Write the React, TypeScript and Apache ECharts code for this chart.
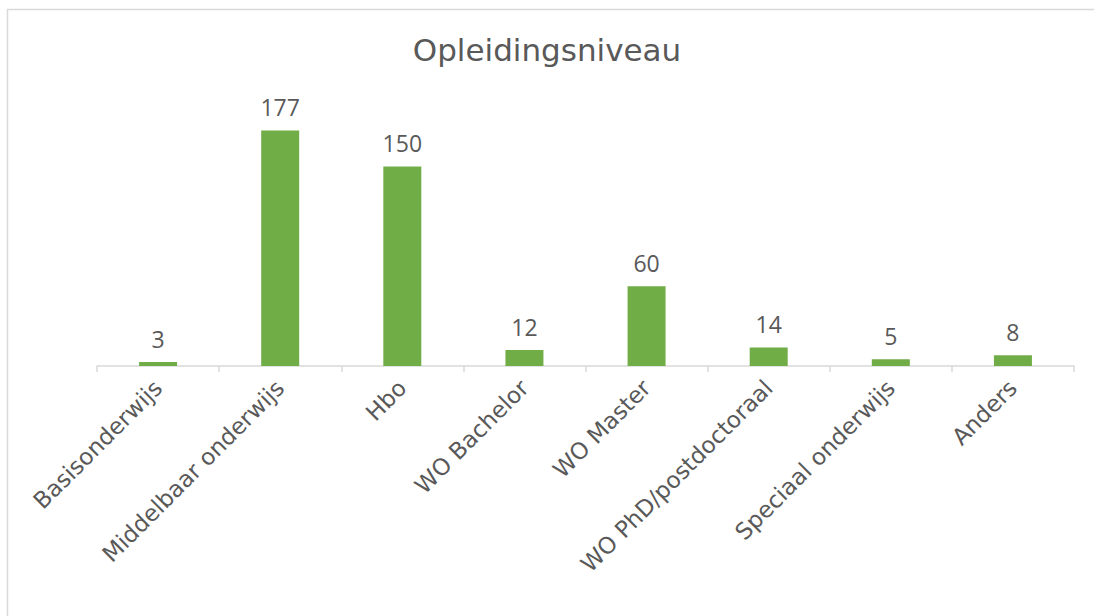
import React, { useEffect, useRef } from "react";
import * as echarts from "echarts";

const categories = [
  "Basisonderwijs",
  "Middelbaar onderwijs",
  "Hbo",
  "WO Bachelor",
  "WO Master",
  "WO PhD/postdoctoraal",
  "Speciaal onderwijs",
  "Anders",
];
const values = [3, 177, 150, 12, 60, 14, 5, 8];
const title = "Opleidingsniveau";

export default function App() {
  const ref = useRef<HTMLDivElement>(null);
  useEffect(() => {
    if (!ref.current) return;
    const chart = echarts.init(ref.current, null, { renderer: "svg" });
    chart.setOption({
      animation: false,
      backgroundColor: "#ffffff",
      title: {
        text: title,
        left: "center",
        top: 29,
        textStyle: { fontFamily: "DejaVu Sans", fontSize: 31, fontWeight: "normal", color: "#595959" },
      },
      graphic: [
        {
          type: "rect",
          shape: { x: 7.5, y: 9.5, width: 1200, height: 800 },
          style: { fill: "none", stroke: "#d9d9d9", lineWidth: 1.5 },
          silent: true,
          z: -10,
        },
      ],
      grid: { left: 97, right: 20, top: 100, bottom: 250, containLabel: false },
      xAxis: {
        type: "category",
        data: categories,
        axisLine: { lineStyle: { color: "#d9d9d9", width: 1.5 } },
        axisTick: { show: true, length: 6, lineStyle: { color: "#d9d9d9", width: 1.5 } },
        axisLabel: {
          rotate: 45,
          interval: 0,
          margin: 18,
          fontFamily: "DejaVu Sans",
          fontSize: 23,
          color: "#595959",
        },
      },
      yAxis: {
        type: "value",
        min: 0,
        max: 200,
        show: false,
        splitLine: { show: false },
      },
      series: [
        {
          type: "bar",
          data: values,
          barWidth: 38,
          itemStyle: { color: "#70AD47" },
          label: {
            show: true,
            position: "top",
            distance: 12,
            fontFamily: "Open Sans",
            fontSize: 23,
            color: "#595959",
          },
        },
      ],
    });
    return () => chart.dispose();
  }, []);
  return (
    <div
      ref={ref}
      style={{ position: "fixed", left: 0, top: 0, width: 1094, height: 616 }}
    />
  );
}
